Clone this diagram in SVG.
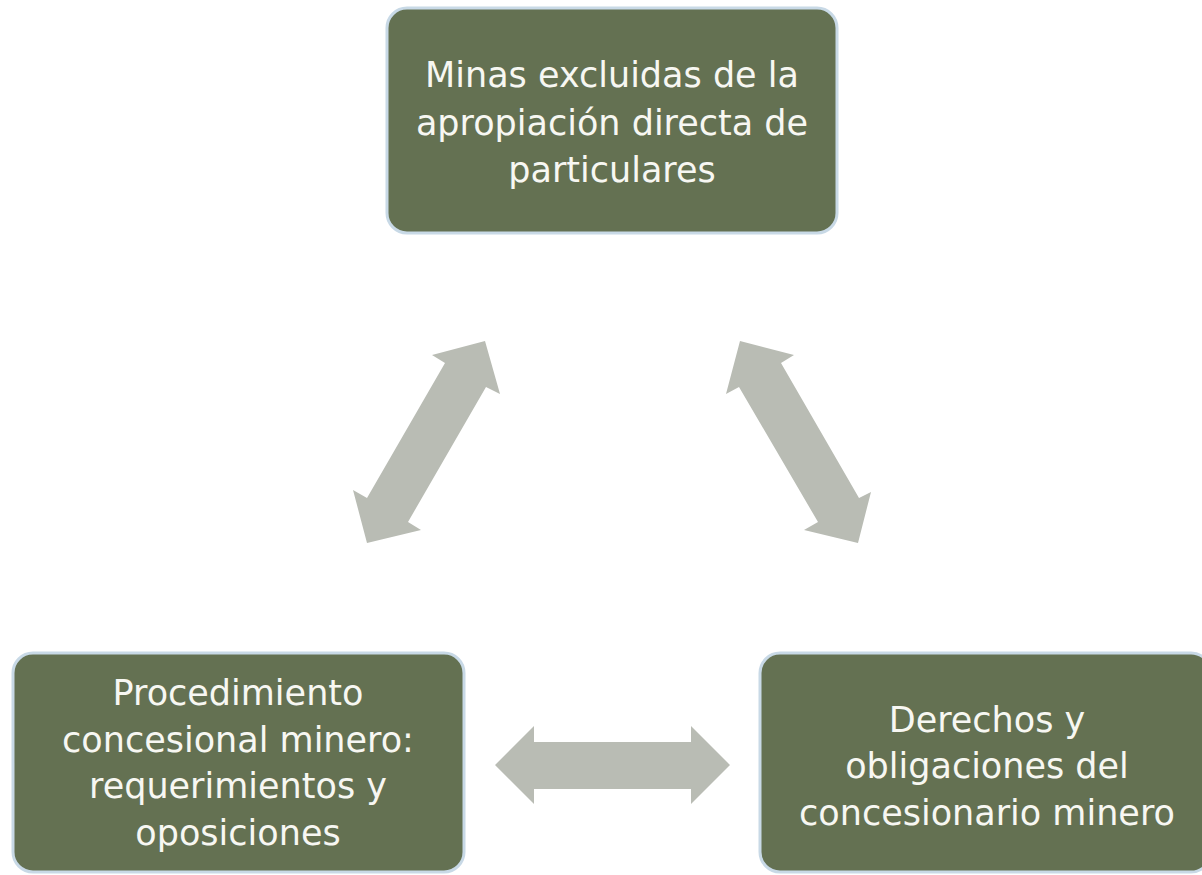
<svg xmlns="http://www.w3.org/2000/svg" width="1202" height="875" viewBox="0 0 1202 875">
<style>
.box{fill:#647152;stroke:#c8d9e6;stroke-width:3}
.lbl{font-family:"DejaVu Sans",sans-serif;font-size:35px;fill:#f7f7f2;text-anchor:middle}
.arr{fill:#b9bcb4}
</style>
<rect width="1202" height="875" fill="#ffffff"/>
<g id="connectors">
<polygon class="arr" points="485,341 500,394 486,387 408,522 421,530 367,543 353,490 367,498 445,363 432,355"/>
<polygon class="arr" points="740,341 794,355 781,363 859,498 871,492 858,543 804,530 818,522 739,387 726,394"/>
<polygon class="arr" points="495,765 534,726 534,742 691,742 691,726 730,765 691,804 691,789 534,789 534,804"/>
</g>
<g id="node-top">
<rect class="box" x="387" y="8" width="450" height="225" rx="20"/>
<text class="lbl" x="612" y="87">Minas excluidas de la</text>
<text class="lbl" x="612" y="135">apropiación directa de</text>
<text class="lbl" x="612" y="182">particulares</text>
</g>
<g id="node-left">
<rect class="box" x="13" y="653" width="451" height="219" rx="20"/>
<text class="lbl" x="238" y="705">Procedimiento</text>
<text class="lbl" x="238" y="752">concesional minero:</text>
<text class="lbl" x="238" y="798">requerimientos y</text>
<text class="lbl" x="238" y="845">oposiciones</text>
</g>
<g id="node-right">
<rect class="box" x="760" y="653" width="451" height="219" rx="20"/>
<text class="lbl" x="987" y="732">Derechos y</text>
<text class="lbl" x="987" y="778">obligaciones del</text>
<text class="lbl" x="987" y="825">concesionario minero</text>
</g>
</svg>
